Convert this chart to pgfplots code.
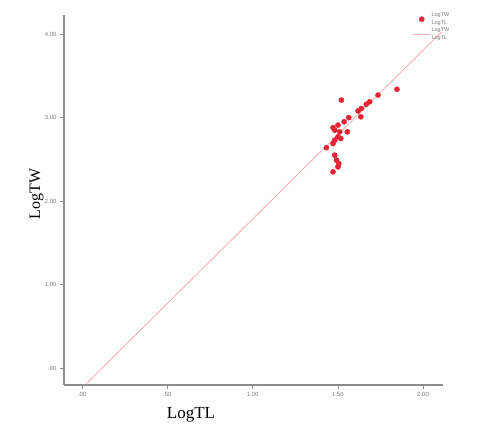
\documentclass[border=0pt]{standalone}
\usepackage{fontspec}
\setmainfont{Liberation Serif}
\setsansfont{Liberation Sans}
\usepackage{pgfplots}
\pgfplotsset{compat=1.18}
\definecolor{ptred}{HTML}{E32636}
\definecolor{fitpink}{HTML}{F2A9B4}
\definecolor{axgray}{HTML}{8C8C8C}
\definecolor{tickgray}{HTML}{7A7A7A}
\begin{document}
\begin{tikzpicture}[x=1bp,y=1bp]
\path[use as bounding box] (0,0) rectangle (495,437);
\begin{axis}[
  at={(64bp,52bp)}, anchor=south west,
  scale only axis, width=379bp, height=370bp,
  xmin=-0.106, xmax=2.117, ymin=-0.204, ymax=4.23,
  axis lines*=left,
  axis line style={axgray, line width=1.2pt},
  xtick={0,0.5,1,1.5,2}, xticklabels={.00,.50,1.00,1.50,2.00},
  ytick={0,1,2,3,4}, yticklabels={.00,1.00,2.00,3.00,4.00},
  tick style={axgray, line width=0.6pt},
  tick align=outside, major tick length=4bp,
  ticklabel style={font=\sffamily\fontsize{6}{7}\selectfont, text=tickgray},
  xlabel={LogTL}, ylabel={LogTW},
  xlabel style={font=\fontsize{17}{19}\selectfont, at={(axis description cs:0.335,0)}, anchor=north, yshift=-19bp},
  ylabel style={font=\fontsize{16}{18}\selectfont, at={(axis description cs:0,0.516)}, anchor=south, yshift=17bp},
  legend style={draw=none, fill=none, at={(0.912,1.015)}, anchor=north west,
    font=\sffamily\fontsize{5.5}{5.5}\selectfont, text=tickgray, row sep=0pt,
    nodes={inner sep=1pt}},
  legend cell align=left,
  clip=false,
]
\addplot[only marks, mark=*, mark size=2.6bp, color=ptred, mark options={draw=ptred, fill=ptred}] table {
x y
1.521 3.21
1.847 3.34
1.736 3.27
1.687 3.19
1.667 3.16
1.638 3.11
1.619 3.08
1.635 3.01
1.564 3.00
1.537 2.95
1.501 2.91
1.472 2.88
1.482 2.85
1.511 2.83
1.556 2.83
1.501 2.77
1.517 2.75
1.482 2.73
1.472 2.69
1.433 2.64
1.482 2.55
1.492 2.49
1.506 2.45
1.501 2.41
1.472 2.35
};
\addlegendentry{\shortstack[l]{LogTW\\LogTL}}
\addplot[fitpink, line width=0.8pt] coordinates {(0.028,-0.182) (2.11,4.03)};
\addlegendentry{\shortstack[l]{LogTW\\LogTL}}
\end{axis}
\end{tikzpicture}
\end{document}
